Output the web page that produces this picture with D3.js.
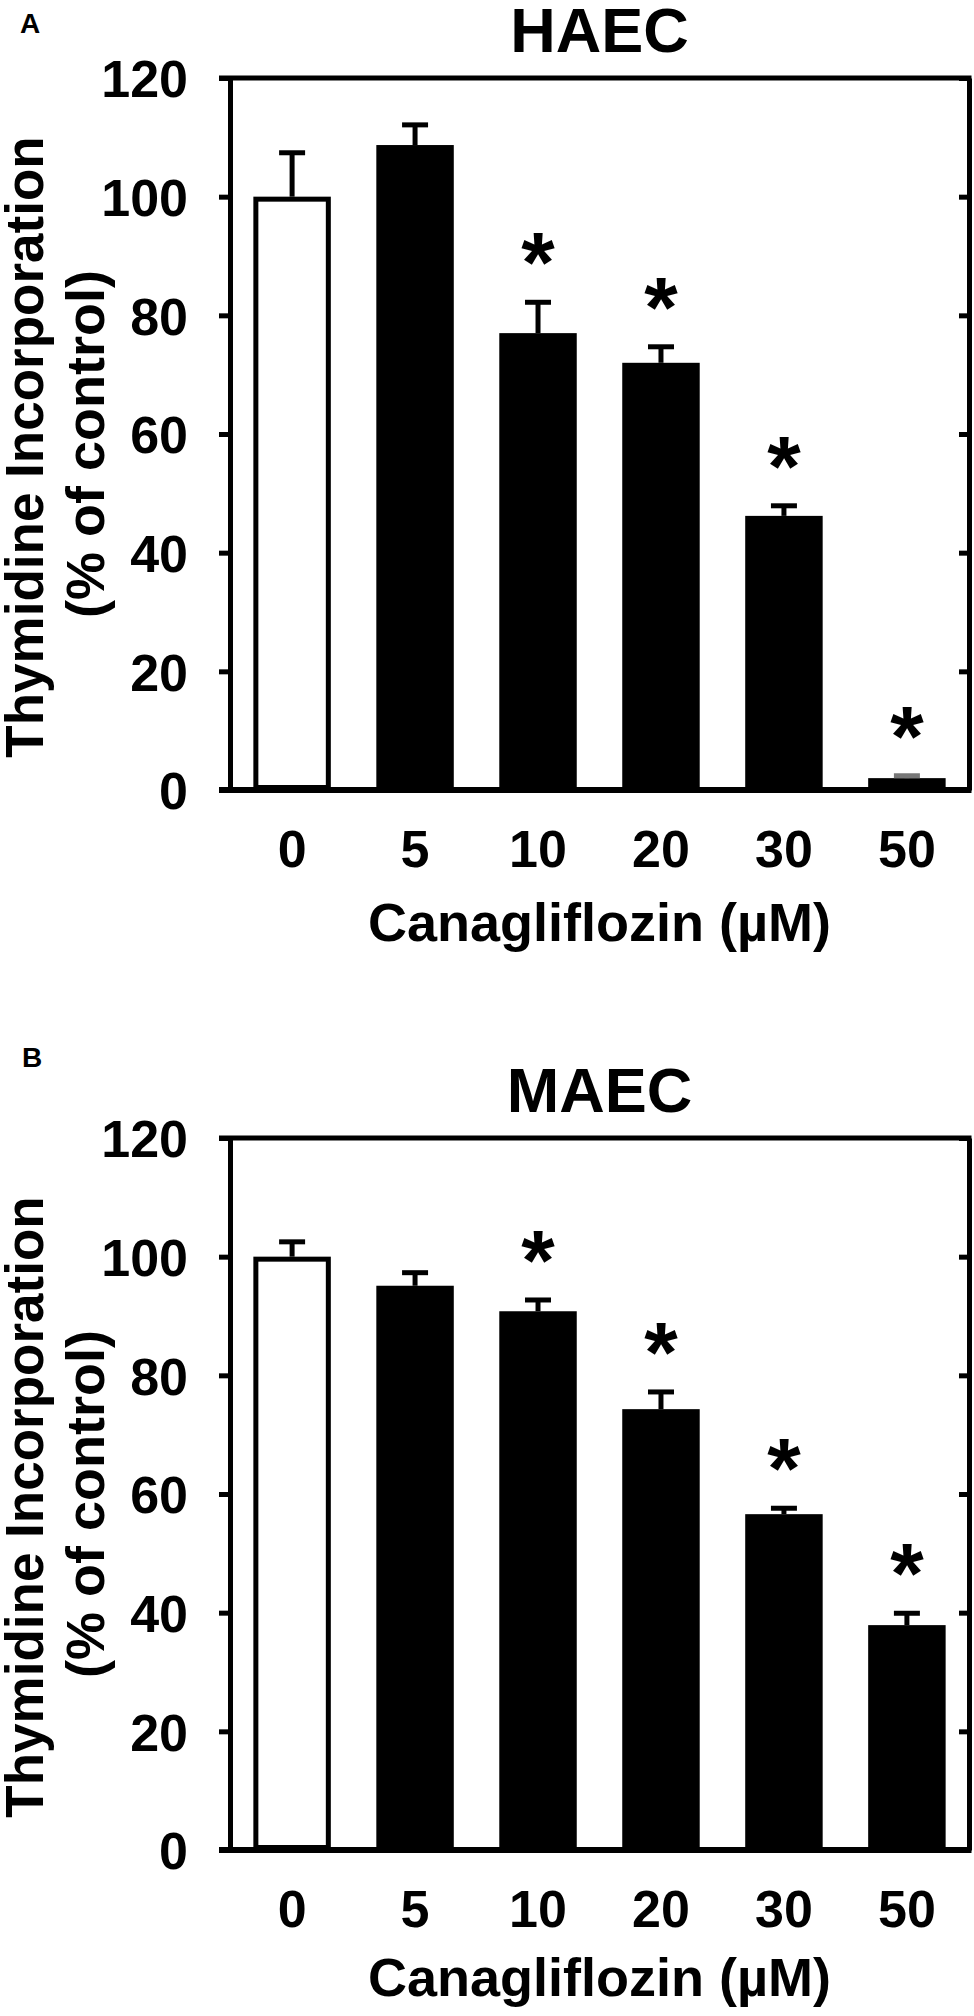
<!DOCTYPE html>
<html>
  <head>
    <title>Thymidine incorporation</title>
    <script src="https://cdn.jsdelivr.net/npm/d3@7"></script>
    <style>
      body { margin: 0; background: #fff; }
      text { font-family: "Liberation Sans", Arial, sans-serif; font-weight: bold; }
    </style>
  </head>

  <body>
    <script>
      // Doser af canagliflozin (x-akse)
      const doses = ["0", "5", "10", "20", "30", "50"];
      const yTicks = [0, 20, 40, 60, 80, 100, 120];

      // HAEC: middelværdi og fejl (% af kontrol)
      const haecMean = [100, 108.7, 77.0, 72.0, 46.2, 2.0];
      const haecErr = [7.4, 3.4, 5.2, 2.7, 1.7, 0.4];
      const haecSig = [false, false, true, true, true, true];

      // MAEC
      const maecMean = [100, 95.1, 90.8, 74.3, 56.6, 37.9];
      const maecErr = [2.5, 2.2, 1.9, 2.9, 1.0, 2.0];
      const maecSig = [false, false, true, true, true, true];

      const w = 974;
      const h = 2016;
      const plotLeft = 230;
      const plotRight = 969;
      const plotTop = 78;
      const plotBottom = 790;

      const svg = d3
        .select("body")
        .append("svg")
        .attr("width", w)
        .attr("height", h);

      const x = d3
        .scaleBand()
        .domain(doses)
        .range([plotLeft, plotRight])
        .paddingInner(0.37)
        .paddingOuter(0.19);

      const y = d3.scaleLinear().domain([0, 120]).range([plotBottom, plotTop]);

      function drawPanel(offsetY, title, label, labelPos, means, errs, sig, xTitleY) {
        const g = svg.append("g").attr("transform", `translate(0,${offsetY})`);

        // Panel bogstav
        g.append("text")
          .attr("x", labelPos[0])
          .attr("y", labelPos[1])
          .attr("font-size", "28px")
          .text(label);

        // Titel
        g.append("text")
          .attr("x", (plotLeft + plotRight) / 2)
          .attr("y", plotTop - 26)
          .attr("text-anchor", "middle")
          .attr("font-size", "63px")
          .text(title);

        // Søjler
        g.selectAll("rect.bar")
          .data(means)
          .enter()
          .append("rect")
          .attr("class", "bar")
          .attr("x", (d, i) => x(doses[i]) + 2.5)
          .attr("y", (d) => y(d) + 2.5)
          .attr("width", x.bandwidth() - 5)
          .attr("height", (d) => Math.max(0, y(0) - y(d) - 5))
          .attr("fill", (d, i) => (i === 0 ? "#fff" : "#000"))
          .attr("stroke", "#000")
          .attr("stroke-width", 5);

        // Fejllinjer
        const eb = g
          .selectAll("g.err")
          .data(means)
          .enter()
          .append("g")
          .attr("class", "err")
          .attr("stroke", (d, i) => (errs[i] < 1 ? "#777" : "#000"))
          .attr("stroke-width", 5);

        eb.append("line")
          .attr("x1", (d, i) => x(doses[i]) + x.bandwidth() / 2)
          .attr("x2", (d, i) => x(doses[i]) + x.bandwidth() / 2)
          .attr("y1", (d) => y(d))
          .attr("y2", (d, i) => y(d + errs[i]));

        eb.append("line")
          .attr("x1", (d, i) => x(doses[i]) + x.bandwidth() / 2 - 13)
          .attr("x2", (d, i) => x(doses[i]) + x.bandwidth() / 2 + 13)
          .attr("y1", (d, i) => y(d + errs[i]))
          .attr("y2", (d, i) => y(d + errs[i]));

        // Stjerner for signifikans
        g.selectAll("text.star")
          .data(means.map((d, i) => ({ dose: doses[i], top: d + errs[i], sig: sig[i] })).filter((s) => s.sig))
          .enter()
          .append("text")
          .attr("class", "star")
          .attr("x", (s) => x(s.dose) + x.bandwidth() / 2)
          .attr("y", (s) => y(s.top) - 10)
          .attr("text-anchor", "middle")
          .attr("font-size", "86px")
          .text("*");

        // Ramme
        g.append("line")
          .attr("x1", plotLeft - 11)
          .attr("x2", plotRight + 2.5)
          .attr("y1", plotTop)
          .attr("y2", plotTop)
          .attr("stroke", "#000")
          .attr("stroke-width", 5);

        g.append("line")
          .attr("x1", plotLeft - 11)
          .attr("x2", plotRight + 2.5)
          .attr("y1", plotBottom)
          .attr("y2", plotBottom)
          .attr("stroke", "#000")
          .attr("stroke-width", 6);

        // Venstre y-akse
        const yAxis = g
          .append("g")
          .attr("transform", `translate(${plotLeft},0)`)
          .call(
            d3.axisLeft(y).tickValues(yTicks).tickSize(11).tickSizeOuter(0).tickPadding(31)
          );
        yAxis.select(".domain").attr("stroke-width", 5);
        yAxis.selectAll(".tick line").attr("stroke-width", 5);
        yAxis
          .selectAll(".tick text")
          .attr("font-size", "52px")
          .attr("font-family", "Liberation Sans, Arial, sans-serif")
          .attr("dy", "0.36em");

        // Højre akse med ticks indad
        const yAxisR = g
          .append("g")
          .attr("transform", `translate(${plotRight},0)`)
          .call(
            d3.axisRight(y).tickValues(yTicks).tickSize(-10).tickSizeOuter(0).tickFormat("")
          );
        yAxisR.select(".domain").attr("stroke-width", 5);
        yAxisR.selectAll(".tick line").attr("stroke-width", 5);

        // x-akse labels
        const xAxis = g
          .append("g")
          .attr("transform", `translate(0,${plotBottom})`)
          .call(d3.axisBottom(x).tickSize(0).tickPadding(40));
        xAxis.select(".domain").remove();
        xAxis
          .selectAll(".tick text")
          .attr("font-size", "52px")
          .attr("font-family", "Liberation Sans, Arial, sans-serif");

        g.append("text")
          .attr("x", (plotLeft + plotRight) / 2)
          .attr("y", plotBottom + xTitleY)
          .attr("text-anchor", "middle")
          .attr("font-size", "54px")
          .text("Canagliflozin (\u00b5M)");

        // y-akse titel, to linjer
        g.append("text")
          .attr("transform", `translate(43,447) rotate(-90)`)
          .attr("text-anchor", "middle")
          .attr("font-size", "53px")
          .text("Thymidine Incorporation");

        g.append("text")
          .attr("transform", `translate(104,444) rotate(-90)`)
          .attr("text-anchor", "middle")
          .attr("font-size", "54px")
          .text("(% of control)");
      }

      drawPanel(0, "HAEC", "A", [20, 33], haecMean, haecErr, haecSig, 151);
      drawPanel(1060, "MAEC", "B", [22, 7], maecMean, maecErr, maecSig, 146);
    </script>
  </body>
</html>
